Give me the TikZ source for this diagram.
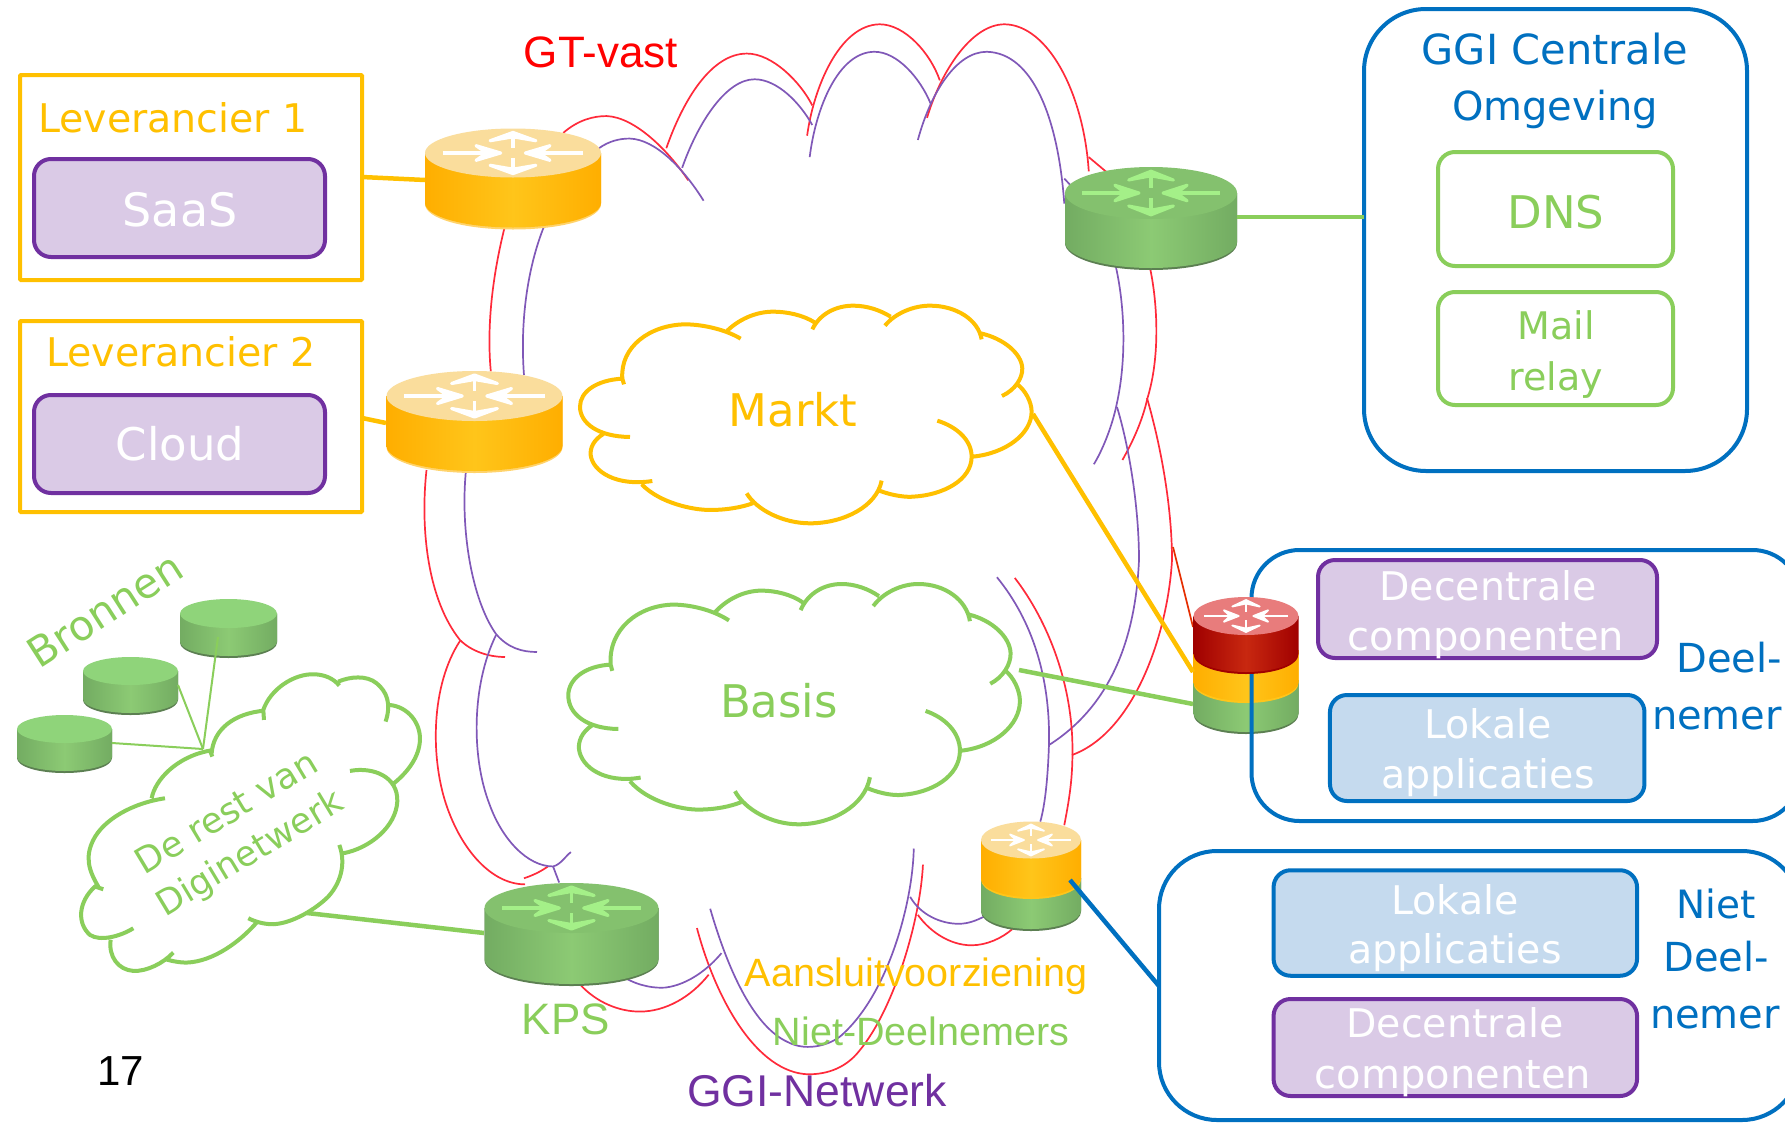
\documentclass[tikz,border=0pt]{standalone}
\usepackage{fontspec}
\setmainfont{DejaVu Sans}
\newfontfamily\arialf{Liberation Sans}
\definecolor{cOr}{HTML}{FFC000}
\definecolor{cGr}{HTML}{8ACE5B}
\definecolor{cBl}{HTML}{0070C0}
\definecolor{cPu}{HTML}{7030A0}
\definecolor{cPuL}{HTML}{DACAE6}
\definecolor{cBlL}{HTML}{C5DAEE}
\definecolor{netred}{HTML}{FF2A3A}
\definecolor{netpu}{HTML}{8058B8}
\definecolor{orD}{HTML}{FFAE00}
\definecolor{orM}{HTML}{FFC51A}
\definecolor{orT}{HTML}{FADD9C}
\definecolor{orR}{HTML}{FFD36B}
\definecolor{grD}{HTML}{73AC62}
\definecolor{grM}{HTML}{8CCA74}
\definecolor{grT}{HTML}{84C16E}
\definecolor{grA}{HTML}{A4F088}
\definecolor{grR}{HTML}{5C7F52}
\definecolor{grS}{HTML}{8FD47A}
\definecolor{reD}{HTML}{A00000}
\definecolor{reM}{HTML}{C82810}
\definecolor{reT}{HTML}{E87C7C}
\tikzset{
  panel/.style={draw,line width=4pt,rounded corners=#1,inner sep=0pt},
  orbox/.style={panel=1pt,draw=cOr},
  pubox/.style={panel=17pt,draw=cPu,fill=cPuL},
  blbox/.style={panel=17pt,draw=cBl,fill=cBlL},
  grbox/.style={panel=17pt,draw=cGr},
  dj/.style={inner sep=0pt,anchor=center,text height=#1*.72pt,text depth=0pt,font=\fontsize{#1}{#1}\selectfont},
  ar/.style={inner sep=0pt,anchor=center,text height=#1*.72pt,text depth=0pt,font=\arialf\fontsize{#1}{#1}\selectfont},
  cloudline/.style={line width=4pt},
  netR/.style={draw=netred,line width=1.7pt},
  netP/.style={draw=netpu,line width=1.7pt},
  link/.style={line width=4.5pt},
  thinlink/.style={line width=2pt,draw=cGr},
}
% body: name cx cy bc rx ry | dark mid rim
\newcommand{\drumbody}[9]{%
  \pgfmathsetmacro{\dl}{#2-#5}\pgfmathsetmacro{\dr}{#2+#5}%
  \pgfmathsetmacro{\dkx}{.5523*#5}\pgfmathsetmacro{\dky}{.5523*#6}%
  \pgfmathsetmacro{\db}{#4+#6}\pgfmathsetmacro{\dbk}{#4+\dky}%
  \pgfmathsetmacro{\dxa}{#2-\dkx}\pgfmathsetmacro{\dxb}{#2+\dkx}%
  \fill[#9] (\dl,#3) -- (\dl,#4+1) .. controls (\dl,\dbk+2) and (\dxa,\db+2) .. (#2,\db+2) .. controls (\dxb,\db+2) and (\dr,\dbk+2) .. (\dr,#4+1) -- (\dr,#3) -- cycle;
  \shade[left color=#7,right color=#7,middle color=#8] (\dl,#3) -- (\dl,#4) .. controls (\dl,\dbk) and (\dxa,\db) .. (#2,\db) .. controls (\dxb,\db) and (\dr,\dbk) .. (\dr,#4) -- (\dr,#3) -- cycle;
  \coordinate (#1) at (#2,#3);
}
% top: cx cy rx ry topcolor arrowcolor
\newcommand{\drumtop}[6]{%
  \fill[#5] (#1,#2) ellipse [x radius=#3,y radius=#4];
  \pgfmathsetmacro{\lw}{#3/28}%
  \begin{scope}[shift={(#1,#2)},xscale=#3,yscale=#4,draw=#6,fill=#6,line width=\lw pt,line join=round]
    \draw (-.8,0)--(-.3,0); \filldraw (-.14,0)--(-.42,-.3)--(-.3,0)--(-.42,.3)--cycle;
    \draw (.8,0)--(.3,0); \filldraw (.14,0)--(.42,-.3)--(.3,0)--(.42,.3)--cycle;
    \draw (0,-.7)--(0,-.2); \filldraw (0,-.84)--(-.26,-.5)--(0,-.66)--(.26,-.5)--cycle;
    \draw (0,.7)--(0,.2); \filldraw (0,.84)--(-.26,.5)--(0,.66)--(.26,.5)--cycle;
  \end{scope}
}
\newcommand{\cloudshape}{%
 (192,283) -- (187,266) .. controls (110,270) and (60,305) .. (60,350) .. controls (60,400) and (115,440) .. (210,441)
 (130,432) .. controls (100,450) and (90,475) .. (92,495) .. controls (98,545) and (170,590) .. (277,573)
 (245,583) .. controls (300,640) and (400,660) .. (450,660) .. controls (500,660) and (545,652) .. (578,640)
 (560,610) .. controls (590,660) and (670,700) .. (750,700) .. controls (850,700) and (950,650) .. (965,572)
 (958,602) .. controls (1000,618) and (1040,622) .. (1060,620) .. controls (1150,615) and (1235,570) .. (1235,500) .. controls (1235,450) and (1190,410) .. (1132,392)
 (1238,500) .. controls (1340,490) and (1415,430) .. (1415,365) .. controls (1415,335) and (1395,300) .. (1372,283)
 (1326,318) .. controls (1365,300) and (1388,265) .. (1387,235) .. controls (1385,190) and (1330,145) .. (1262,130)
 (1265,148) .. controls (1255,90) and (1190,47) .. (1110,47) .. controls (1060,47) and (1005,70) .. (975,107)
 (992,80) .. controls (960,60) and (920,47) .. (880,47) .. controls (830,47) and (780,70) .. (757,118)
 (765,98) .. controls (730,75) and (680,65) .. (640,65) .. controls (585,65) and (535,90) .. (502,122)
 (542,146) .. controls (490,115) and (420,103) .. (375,103) .. controls (270,105) and (180,170) .. (187,266)
}
\begin{document}
\begin{tikzpicture}[x=1pt,y=-1pt]
\useasboundingbox (0,0) rectangle (1785,1122);
\clip (0,0) rectangle (1785,1122);
\fill[white] (0,0) rectangle (1785,1122);

% ---- network outline, top part
\begin{scope}[shift={(400,0)},xscale=.5102,yscale=.3571]
 \draw[netR] (320,372) .. controls (350,335) and (380,325) .. (405,325) .. controls (460,328) and (525,420) .. (565,505);
 \draw[netR] (522,415) .. controls (555,280) and (610,150) .. (680,150) .. controls (730,150) and (785,230) .. (808,295);
 \draw[netR] (798,380) .. controls (810,250) and (860,70) .. (940,68) .. controls (990,68) and (1040,150) .. (1058,225);
 \draw[netR] (1033,330) .. controls (1060,200) and (1120,68) .. (1185,68) .. controls (1270,70) and (1340,260) .. (1350,480);
 \draw[netR] (1350,440) -- (1385,482);
 \draw[netP] (390,415) .. controls (410,395) and (430,388) .. (450,388) .. controls (500,390) and (555,470) .. (595,562);
 \draw[netP] (553,470) .. controls (585,340) and (640,222) .. (695,222) .. controls (740,222) and (785,290) .. (808,350);
 \draw[netP] (803,440) .. controls (815,300) and (860,145) .. (930,145) .. controls (975,145) and (1020,220) .. (1040,290);
 \draw[netP] (1015,392) .. controls (1040,260) and (1090,145) .. (1150,145) .. controls (1240,148) and (1290,330) .. (1302,570);
 \draw[netP] (1302,500) -- (1315,520);
 \draw[netP] (1402,740) .. controls (1420,850) and (1425,1000) .. (1405,1130) .. controls (1395,1200) and (1375,1265) .. (1360,1300);
 \draw[netR] (1470,750) .. controls (1485,850) and (1490,1000) .. (1465,1115) .. controls (1455,1180) and (1435,1240) .. (1416,1288);
 \draw[netR] (205,637) .. controls (180,780) and (170,920) .. (178,1040);
 \draw[netP] (282,635) .. controls (250,750) and (235,900) .. (243,1050);
\end{scope}
% ---- right and left joins
\draw[netP] (1117,407) .. controls (1130,450) and (1139,510) .. (1139,560) .. controls (1135,650) and (1104,710) .. (1049,745);
\draw[netR] (1147,398) .. controls (1162,450) and (1172,510) .. (1172,560) .. controls (1168,632) and (1135,732) .. (1072,755);
\draw[line width=1.7pt,draw=red!60!orange!90!black] (1173,547) -- (1193,627);
\draw[netR] (426.5,470) .. controls (420,530) and (428,600) .. (460,640) .. controls (472,652) and (490,657) .. (505,657);
\draw[netP] (466,470) .. controls (460,530) and (472,600) .. (496,634) .. controls (508,648) and (522,652) .. (537,652);
% ---- network outline, lower part
\begin{scope}[shift={(400,560)},xscale=.5102,yscale=.3584]
 \draw[netP] (1170,48) .. controls (1240,170) and (1275,330) .. (1272,515) .. controls (1270,600) and (1265,680) .. (1255,730);
 \draw[netR] (1205,50) .. controls (1270,170) and (1320,350) .. (1318,540) .. controls (1318,620) and (1310,680) .. (1302,740);
 \draw[netP] (1007,805) .. controls (1005,950) and (960,1200) .. (870,1320) .. controls (850,1350) and (800,1375) .. (760,1345) .. controls (690,1300) and (640,1130) .. (608,973);
 \draw[netR] (1025,850) .. controls (1020,1000) and (970,1250) .. (900,1370) .. controls (875,1415) and (840,1435) .. (800,1435) .. controls (700,1430) and (620,1230) .. (582,1027);
 \draw[netP] (1000,940) .. controls (1020,990) and (1060,1015) .. (1095,1015) .. controls (1115,1015) and (1130,1005) .. (1145,995);
 \draw[netR] (1015,990) .. controls (1040,1040) and (1080,1075) .. (1120,1075) .. controls (1150,1075) and (1180,1055) .. (1200,1030);
 \draw[netP] (440,1165) .. controls (470,1190) and (500,1195) .. (520,1193) .. controls (565,1185) and (605,1140) .. (630,1097);
 \draw[netR] (352,1183) .. controls (385,1235) and (430,1260) .. (470,1260) .. controls (520,1260) and (570,1220) .. (605,1157);
 \draw[netR] (118,225) .. controls (60,350) and (60,550) .. (90,680) .. controls (120,810) and (180,905) .. (245,905);
 \draw[netR] (243,888) .. controls (260,880) and (275,870) .. (290,855);
 \draw[netP] (188,210) .. controls (140,350) and (140,550) .. (175,680) .. controls (200,780) and (250,855) .. (300,855) .. controls (315,850) and (325,825) .. (335,815);
 \draw[netP] (300,855) -- (312,900);
\end{scope}

% ---- clouds
\begin{scope}[shift={(560,290)},xscale=.3333,yscale=.3333]
 \draw[cloudline,draw=cOr] \cloudshape;
\end{scope}
\begin{scope}[shift={(548.3,566.7)},xscale=.3333,yscale=.368]
 \draw[cloudline,draw=cGr] \cloudshape;
\end{scope}
\begin{scope}[xscale=.3333,yscale=.3333,shift={(0,1620)}]
 \draw[cloudline,draw=cGr]
 (792,540) -- (790,510) .. controls (810,450) and (880,400) .. (945,403) .. controls (975,405) and (1000,415) .. (1018,437)
 (1015,425) .. controls (1050,410) and (1100,405) .. (1130,430) .. controls (1160,455) and (1175,490) .. (1157,545)
 (1168,495) .. controls (1225,500) and (1262,550) .. (1260,600) .. controls (1258,650) and (1225,695) .. (1182,730)
 (1050,693) .. controls (1120,680) and (1195,710) .. (1192,785) .. controls (1188,860) and (1110,925) .. (1030,940)
 (1018,915) .. controls (1035,960) and (1030,1020) .. (985,1070) .. controls (950,1105) and (880,1150) .. (820,1153) .. controls (790,1153) and (765,1145) .. (745,1135)
 (770,1148) .. controls (720,1205) and (640,1265) .. (560,1268) .. controls (535,1268) and (510,1262) .. (497,1258)
 (520,1238) .. controls (490,1270) and (440,1295) .. (400,1293) .. controls (355,1290) and (325,1250) .. (332,1200)
 (400,1165) .. controls (360,1190) and (300,1205) .. (270,1185) .. controls (230,1150) and (235,1085) .. (285,1040) -- (310,1048)
 (295,1040) .. controls (265,990) and (255,950) .. (280,900) .. controls (310,840) and (395,790) .. (495,775)
 (455,775) .. controls (465,720) and (530,650) .. (630,632) -- (637,650)
 (635,640) .. controls (640,570) and (700,520) .. (795,512);
\end{scope}

% ---- drums
\drumbody{rLevA}{513}{153}{203}{88}{24.5}{orD}{orM}{orR}
\drumtop{513}{153}{88}{24.5}{orT}{white}
\drumbody{rLevB}{474.5}{396}{446}{88}{25}{orD}{orM}{orR}
\drumtop{474.5}{396}{88}{25}{orT}{white}
\drumbody{rGGI}{1151}{193}{242}{86}{26}{grD}{grM}{grR}
\drumtop{1151}{193}{86}{26}{grT}{grA}
\drumbody{rKPS}{571.5}{908}{959}{87}{25}{grD}{grM}{grR}
\drumtop{571.5}{908}{87}{25}{grT}{grA}
% small stack right
\drumbody{rLow}{1031}{878}{910.5}{50}{18.5}{grD}{grM}{grR}
\drumbody{rLowT}{1031}{840}{878.5}{50}{18.5}{orD}{orM}{orM}
\drumtop{1031}{840}{50}{18.5}{orT}{white}
% Deelnemer stack
\drumbody{rDeelG}{1246}{680}{713}{52.5}{19}{grD}{grM}{grR}
\drumbody{rDeelO}{1246}{650}{682}{52.5}{19}{orD}{orM}{orM}

% ---- sources
\drumbody{srcC}{228.5}{613.5}{641.5}{48.5}{14.5}{grD}{grM}{grR}
\fill[grS] (228.5,613.5) ellipse [x radius=48.5,y radius=14.5];
\drumbody{srcB}{130.5}{671}{699}{47.5}{14}{grD}{grM}{grR}
\fill[grS] (130.5,671) ellipse [x radius=47.5,y radius=14];
\drumbody{srcA}{64.5}{729}{757}{47.5}{14}{grD}{grM}{grR}
\fill[grS] (64.5,729) ellipse [x radius=47.5,y radius=14];

% ---- frames
\node[orbox,minimum width=342pt,minimum height=205pt] (levA) at (191,177.5) {};
\node[orbox,minimum width=342pt,minimum height=191pt] (levB) at (191,416.5) {};
\node[pubox,minimum width=291pt,minimum height=98pt] (saas) at (179.5,208) {};
\node[pubox,minimum width=291pt,minimum height=98pt] (cloud) at (179.5,444) {};
\node[panel=62pt,draw=cBl,minimum width=383pt,minimum height=462pt] (ggi) at (1555.5,240) {};
\node[grbox,minimum width=235pt,minimum height=114pt] (dns) at (1555.5,209) {};
\node[grbox,minimum width=235pt,minimum height=113pt] (mail) at (1555.5,348.5) {};
\node[panel=48pt,draw=cBl,minimum width=549pt,minimum height=271pt] (deel) at (1526,685.5) {};
\node[pubox,minimum width=339pt,minimum height=98pt] (decA) at (1487.5,609) {};
\node[blbox,minimum width=314.5pt,minimum height=106pt] (lokA) at (1487.2,748) {};
\node[panel=58pt,draw=cBl,minimum width=641pt,minimum height=269pt] (niet) at (1479.5,985.5) {};
\node[blbox,minimum width=363.5pt,minimum height=105.5pt] (lokB) at (1455.3,923) {};
\node[pubox,minimum width=363.5pt,minimum height=97pt] (decB) at (1455.3,1047.5) {};

% red router sits over the frame
\drumbody{rDeelR}{1246}{616}{653}{52.5}{19}{reD}{reM}{reD}
\drumtop{1246}{616}{52.5}{19}{reT}{white}

% ---- connectors
\coordinate (marktPort) at (1033,414);
\coordinate (basisPort) at (1019,670);
\coordinate (restPort) at (307,913);
\coordinate (srcHub) at (203,749);
\coordinate (lowPort) at (1070,880);
\coordinate (srcAp) at (112,743);
\coordinate (srcBp) at (178,685);
\coordinate (srcCp) at (218,637);
\coordinate (rAin) at (425,180);
\coordinate (rBin) at (386,423);
\coordinate (rGin) at (1237,217);
\coordinate (rKin) at (484,933);
\coordinate (stackO) at (1193,672);
\coordinate (stackG) at (1193,704);
\coordinate (lowFrame) at (1159,986);
\coordinate (levAr) at (362,177);
\coordinate (levBr) at (362,418);
\coordinate (ggiL) at (1364,217);
\draw[link,draw=cOr] (levAr) -- (rAin);
\draw[link,draw=cOr] (levBr) -- (rBin);
\draw[link,draw=cGr] (rGin) -- (ggiL);
\draw[link,draw=cOr] (marktPort) -- (stackO);
\draw[link,draw=cGr] (basisPort) -- (stackG);
\draw[link,draw=cGr] (restPort) -- (rKin);
\draw[link,draw=cBl] (lowPort) -- (lowFrame);
\draw[thinlink] (srcAp) -- (srcHub);
\draw[thinlink] (srcBp) -- (srcHub);
\draw[thinlink] (srcCp) -- (srcHub);

% ---- texts
\node[dj=39.5,text=cOr] (tLevA) at (173,118) {Leverancier 1};
\node[dj=39.5,text=cOr] (tLevB) at (181,352) {Leverancier 2};
\node[dj=46,text=white] (tSaas) at (180,210) {SaaS};
\node[dj=45,text=white] (tCloud) at (180,444) {Cloud};
\node[dj=41.5,text=cBl] (tGGIa) at (1555,50) {GGI Centrale};
\node[dj=40,text=cBl] (tGGIb) at (1555,106) {Omgeving};
\node[dj=45,text=cGr] (tDNS) at (1556,212) {DNS};
\node[dj=38,text=cGr] (tMailA) at (1556,326) {Mail};
\node[dj=38,text=cGr] (tMailB) at (1556,377) {relay};
\node[ar=44,text=red] (tGT) at (601,52) {GT-vast};
\node[dj=45,text=cOr] (tMarkt) at (793,410) {Markt};
\node[dj=45,text=cGr] (tBasis) at (779,701) {Basis};
\node[ar=44,text=cGr] (tKPS) at (566,1019) {KPS};
\node[ar=39.5,text=cOr] (tAans) at (916,972) {Aansluitvoorziening};
\node[ar=39.5,text=cGr] (tNiet) at (921,1031) {Niet-Deelnemers};
\node[ar=44.5,text=cPu] (tGGIN) at (817,1090) {GGI-Netwerk};
\node[ar=42,text=black] (tNum) at (121,1070) {17};
\node[dj=41.5,text=cGr,rotate=32.7] (tBron) at (105,610) {Bronnen};
\node[dj=35.5,text=cGr,rotate=31] (tRestA) at (226,812) {De rest van};
\node[dj=35,text=cGr,rotate=31] (tRestB) at (249,852) {Diginetwerk};
\node[dj=39.5,text=white] (tDecA1) at (1488,586) {Decentrale};
\node[dj=40,text=white] (tDecA2) at (1486,636) {componenten};
\node[dj=39.5,text=white] (tLokA1) at (1488,724) {Lokale};
\node[dj=39.5,text=white] (tLokA2) at (1488,774) {applicaties};
\node[dj=40,text=cBl] (tDeelA) at (1729,658) {Deel-};
\node[dj=40,text=cBl] (tDeelB) at (1717,715) {nemer};
\node[dj=39.5,text=white] (tLokB1) at (1455,900) {Lokale};
\node[dj=39.5,text=white] (tLokB2) at (1455,949) {applicaties};
\node[dj=39.5,text=white] (tDecB1) at (1455,1023) {Decentrale};
\node[dj=40,text=white] (tDecB2) at (1453,1074) {componenten};
\node[dj=39,text=cBl] (tNietA) at (1716,904) {Niet};
\node[dj=40,text=cBl] (tNietB) at (1716,957) {Deel-};
\node[dj=40,text=cBl] (tNietC) at (1715,1014) {nemer};
\end{tikzpicture}
\end{document}
